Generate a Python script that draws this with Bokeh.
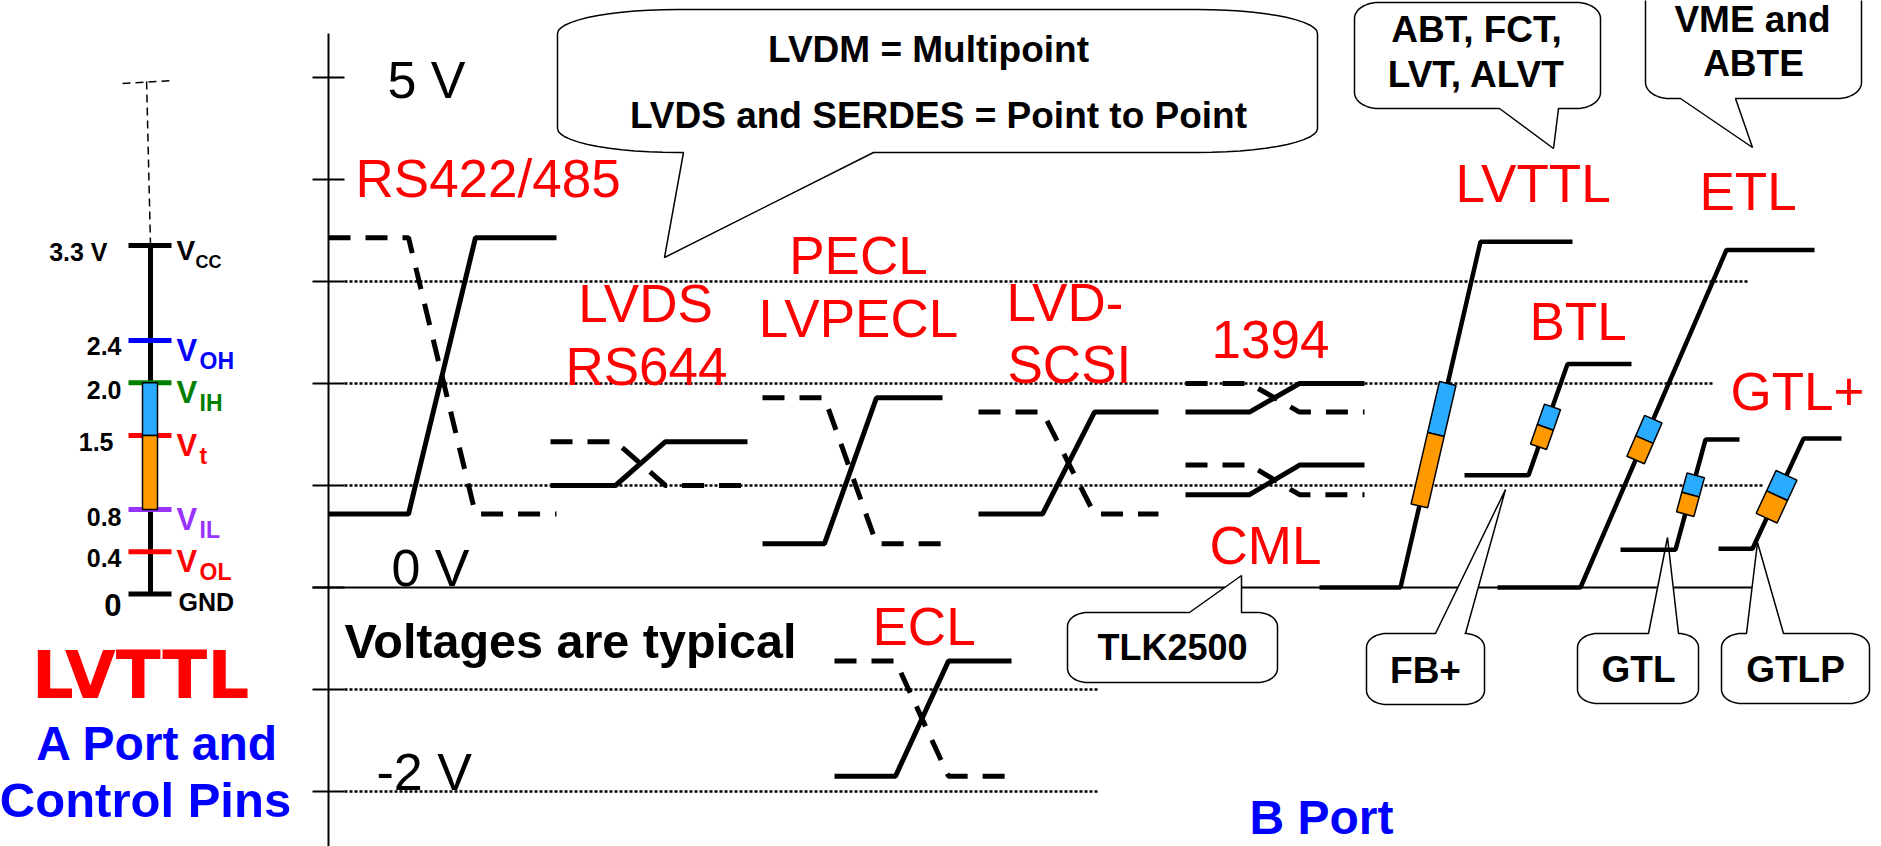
import numpy as np
from bokeh.plotting import figure
from bokeh.models import Range1d
from bokeh.core.properties import value
from bokeh.embed import file_html
from bokeh.resources import INLINE

# ---------------- DATA (volts) ----------------
# LVTTL reference ladder (left panel)
lv_names = ["CC", "OH", "IH", "t", "IL", "OL", "GND"]
lv_levels = [3.3, 2.4, 2.0, 1.5, 0.8, 0.4, 0.0]
lv_value_text = ["3.3 V", "2.4", "2.0", "1.5", "0.8", "0.4", "0"]
lv_tolerant = 5.0

# main voltage axis
axis_ticks = [5, 4, 3, 2, 1, 0, -1, -2]
axis_label_text = ["5 V", "0 V", "-2 V"]
axis_label_levels = [5, 0, -2]
dotted_levels = [3, 2, 1, -1, -2]

# differential standards (solid = true, dashed = complement)
diff_names = ["RS422/485", "LVDS", "PECL", "LVD-SCSI", "1394 a", "1394 b", "ECL"]
diff_high = [3.43, 1.43, 1.86, 1.72, 2.00, 1.20, -0.72]
diff_low = [0.72, 1.00, 0.43, 0.72, 1.72, 0.91, -1.85]

# single-ended standards with input threshold windows
se_names = ["LVTTL", "BTL", "ETL", "GTL", "GTLP"]
se_low = [0.00, 1.10, 0.00, 0.37, 0.38]
se_high = [3.39, 2.19, 3.31, 1.45, 1.46]
se_vih = [2.00, 1.77, 1.65, 1.10, 1.10]
se_vt = [1.50, 1.57, 1.45, 0.91, 0.90]
se_vil = [0.80, 1.38, 1.25, 0.72, 0.68]

family_text = ["RS422/485", "LVDS", "RS644", "PECL", "LVPECL", "LVD-", "SCSI",
               "1394", "CML", "LVTTL", "ETL", "BTL", "GTL+", "ECL"]
callout_text = [["LVDM = Multipoint", "LVDS and SERDES = Point to Point"],
                ["ABT, FCT,", "LVT, ALVT"], ["VME and", "ABTE"],
                ["TLK2500"], ["FB+"], ["GTL"], ["GTLP"]]

# ---------------- STYLE / LAYOUT ----------------
RED, BLUE, GREEN, PURPLE = "#FF0000", "#0000FF", "#008000", "#9933FF"
SKY, ORANGE = "#29ABFF", "#FF9900"
FONT = value("Liberation Sans")
lv_colors = ["black", BLUE, GREEN, RED, PURPLE, RED, "black"]

Y0, K = 587.0, 102.0          # page pixel of 0 V, pixels per volt (main scale)
LA, LB = 593.4, 105.6         # page pixel of 0 V, pixels per volt (left ladder scale)


def v(py):                    # page pixel row -> volts (main scale)
    return (Y0 - py) / K


W, H = 1881, 846
p = figure(width=W, height=H, x_range=Range1d(0, W), y_range=Range1d(v(H), v(0)),
           output_backend="svg", toolbar_location=None,
           x_axis_location=None, y_axis_location=None, min_border=0)
p.extra_y_ranges = {"ladder": Range1d(start=(LA - H) / LB, end=LA / LB)}
p.outline_line_color = None
p.background_fill_color = "white"
try:
    p.xgrid.visible = False
    p.ygrid.visible = False
except Exception:
    pass

BL = 0.36   # baseline correction (fraction of font size)


def txt(x, y, s, size, color="black", align="left", bold=False, yoff=0.0, font=FONT, rng="default"):
    p.text(x=[x], y=[y], text=[s], text_font=font, text_font_size=value(f"{size}px"),
           text_font_style="bold" if bold else "normal", text_color=color,
           text_align=align, text_baseline="alphabetic", y_offset=yoff - BL * size,
           y_range_name=rng)


# ---- main axis, ticks, reference lines ----
AX = 328
p.line([AX, AX], [v(900), v(33)], line_color="black", line_width=2)
p.segment(x0=[312] * len(axis_ticks), x1=[344] * len(axis_ticks), y0=axis_ticks, y1=axis_ticks,
          line_color="black", line_width=2)
dot_end = {3: 1749, 2: 1713, 1: 1763, -1: 1097, -2: 1097}
p.segment(x0=[344] * len(dotted_levels), x1=[dot_end[l] for l in dotted_levels],
          y0=dotted_levels, y1=dotted_levels, line_color="black", line_width=2.5, line_dash="3 2")
p.segment(x0=[312], x1=[1752], y0=[0], y1=[0], line_color="black", line_width=2)


# ---- callouts ----
def callout(x0, x1, y0, y1, rx, ry, tail, side):
    pts = []

    def arc(cx, cy, a0, a1):
        for t in np.linspace(a0, a1, 14):
            pts.append((cx + rx * np.cos(t), cy + ry * np.sin(t)))
    bl, tip, br = tail
    arc(x0 + rx, y0 + ry, np.pi, 1.5 * np.pi)
    if side == "top":
        pts.extend([(bl, y0), tip, (br, y0)])
    arc(x1 - rx, y0 + ry, 1.5 * np.pi, 2 * np.pi)
    arc(x1 - rx, y1 - ry, 0, 0.5 * np.pi)
    if side == "bottom":
        pts.extend([(br, y1), tip, (bl, y1)])
    arc(x0 + rx, y1 - ry, 0.5 * np.pi, np.pi)
    return [q[0] for q in pts], [v(q[1]) for q in pts]


callout_layout = [
    dict(box=(557, 1317, 9, 152), r=(120, 24), tail=(683, (664, 257), 873), side="bottom",
         text_xy=[(928, 62), (938, 128)], size=37),
    dict(box=(1354, 1600, 2, 108), r=(24, 16), tail=(1499, (1553, 148), 1558), side="bottom",
         text_xy=[(1476, 42), (1476, 87)], size=37),
    dict(box=(1645, 1861, -30, 98), r=(24, 16), tail=(1680, (1752, 147), 1735), side="bottom",
         text_xy=[(1752, 32), (1753, 76)], size=37),
    dict(box=(1067, 1277, 612, 682), r=(20, 14), tail=(1189, (1241, 575), 1241), side="top",
         text_xy=[(1172, 660)], size=36),
    dict(box=(1366, 1484, 633, 704), r=(20, 14), tail=(1435, (1505, 489), 1465), side="top",
         text_xy=[(1425, 683)], size=37),
    dict(box=(1577, 1698, 633, 703), r=(20, 14), tail=(1648, (1667, 537), 1678), side="top",
         text_xy=[(1638, 682)], size=37),
    dict(box=(1721, 1869, 633, 703), r=(20, 14), tail=(1746, (1757, 542), 1783), side="top",
         text_xy=[(1795, 682)], size=37),
]
cxs, cys = [], []
for c in callout_layout:
    x0, x1, y0, y1 = c["box"]
    xs, ys = callout(x0, x1, y0, y1, c["r"][0], c["r"][1], c["tail"], c["side"])
    cxs.append(xs)
    cys.append(ys)
p.patches(cxs, cys, fill_color="white", line_color="black", line_width=1.5)
for c, lines in zip(callout_layout, callout_text):
    for (tx, ty), s in zip(c["text_xy"], lines):
        txt(tx, v(ty), s, c["size"], align="center", bold=True)

# ---- left LVTTL ladder (own schematic scale) ----
LX = 150
vcc_main = v(LA - LB * max(lv_levels))      # VCC position expressed on the main scale
p.line([LX, 146], [vcc_main, lv_tolerant], line_color="black", line_width=1.5, line_dash="8 5")
p.line([122, 170], [lv_tolerant - 0.06, lv_tolerant - 0.03], line_color="black", line_width=1.5,
       line_dash="8 5")
p.line([LX, LX], [min(lv_levels), max(lv_levels)], line_color="black", line_width=5,
       y_range_name="ladder")
p.segment(x0=[128] * 7, x1=[171] * 7, y0=lv_levels, y1=lv_levels, line_color=lv_colors, line_width=5,
          y_range_name="ladder")
p.quad(left=[142, 142], right=[157, 157], top=[lv_levels[2], lv_levels[3]],
       bottom=[lv_levels[3], lv_levels[4]], fill_color=[SKY, ORANGE], line_color="black", line_width=1.5,
       y_range_name="ladder")
val_right = [107, 121, 121, 113, 121, 121, 121]
val_off = [16, 15, 16, 15, 17, 15, 22]
for i, t in enumerate(lv_value_text):
    txt(val_right[i], lv_levels[i], t, 31 if t == "0" else 25, align="right", bold=True,
        yoff=val_off[i], rng="ladder")
for i, nm in enumerate(lv_names):
    col = lv_colors[i]
    if nm == "GND":
        txt(178, lv_levels[i], nm, 25, color=col, bold=True, yoff=17, rng="ladder")
        continue
    big, sub, yo_b, yo_s, xs = (28, 18, 15, 23, 195) if nm == "CC" else (31, 23, 21, 29, 199)
    txt(176, lv_levels[i], "V", big, color=col, bold=True, yoff=yo_b, rng="ladder")
    txt(xs, lv_levels[i], nm, sub, color=col, bold=True, yoff=yo_s, rng="ladder")

# ---- differential waveforms ----
diff_x = [(328, 408, 475, 556), (550, 615, 665, 747), (762, 824, 876, 942),
          (978, 1042, 1094, 1158), (1185, 1249, 1299, 1364), (1185, 1249, 1299, 1364),
          (834, 895, 948, 1011)]
for (x0, xa, xb, x1), hi, lo in zip(diff_x, diff_high, diff_low):
    p.line([x0, xa, xb, x1], [hi, hi, lo, lo], line_color="black", line_width=5, line_dash="22 15")
    p.line([x0, xa, xb, x1], [lo, lo, hi, hi], line_color="black", line_width=5)

# ---- single-ended waveforms with threshold windows ----
se_x = [(1319, 1400, 1480, 1572), (1464, 1528, 1567, 1631), (1497, 1580, 1726, 1814),
        (1620, 1675, 1705, 1739), (1718, 1752, 1803, 1841)]
se_box_w = [17, 17, 19, 18, 23]


def window(xr0, lo, xr1, hi, vtop, vbot, w):
    dx, dy = xr1 - xr0, -(hi - lo) * K
    L = np.hypot(dx, dy)
    nx, ny = -dy / L, dx / L
    pts = []
    for vv, sgn in ((vtop, 1), (vtop, -1), (vbot, -1), (vbot, 1)):
        cx = xr0 + dx * (vv - lo) / (hi - lo)
        cy = Y0 - K * vv
        pts.append((cx + sgn * nx * w / 2, cy + sgn * ny * w / 2))
    return [q[0] for q in pts], [v(q[1]) for q in pts]


bx, by, bc = [], [], []
for i in range(len(se_names)):
    xs0, xr0, xr1, xe = se_x[i]
    lo, hi = se_low[i], se_high[i]
    p.line([xs0, xr0, xr1, xe], [lo, lo, hi, hi], line_color="black", line_width=4.5)
    for (a, b_), col in (((se_vih[i], se_vt[i]), SKY), ((se_vt[i], se_vil[i]), ORANGE)):
        xs, ys = window(xr0, lo, xr1, hi, a, b_, se_box_w[i])
        bx.append(xs)
        by.append(ys)
        bc.append(col)
p.patches(bx, by, fill_color=bc, line_color="black", line_width=1.5)

# ---- texts ----
fam_pos = [(355, 197, "left"), (645, 322, "center"), (646, 385, "center"), (858, 274, "center"),
           (858, 337, "center"), (1006, 321, "left"), (1007, 383, "left"), (1211, 358, "left"),
           (1209, 564, "left"), (1455, 202, "left"), (1699, 210, "left"), (1529, 340, "left"),
           (1730, 410, "left"), (872, 645, "left")]
for t, (x, y, al) in zip(family_text, fam_pos):
    txt(x, v(y), t, 53, color=RED, align=al)

ax_lab_x = [387, 391, 376]
ax_lab_off = [21, -1, -1]
for t, lvl, x, off in zip(axis_label_text, axis_label_levels, ax_lab_x, ax_lab_off):
    txt(x, lvl, t, 52, yoff=off)

txt(344, v(658), "Voltages are typical", 48.5, bold=True)
txt(140, v(699), "LVTTL", 66, color=RED, align="center", bold=True, font=value("DejaVu Sans"))
txt(157, v(760), "A Port and", 48, color=BLUE, align="center", bold=True)
txt(145, v(817), "Control Pins", 49, color=BLUE, align="center", bold=True)
txt(1321, v(834), "B Port", 48, color=BLUE, align="center", bold=True)

open("out.html", "w").write(file_html(p, INLINE))
